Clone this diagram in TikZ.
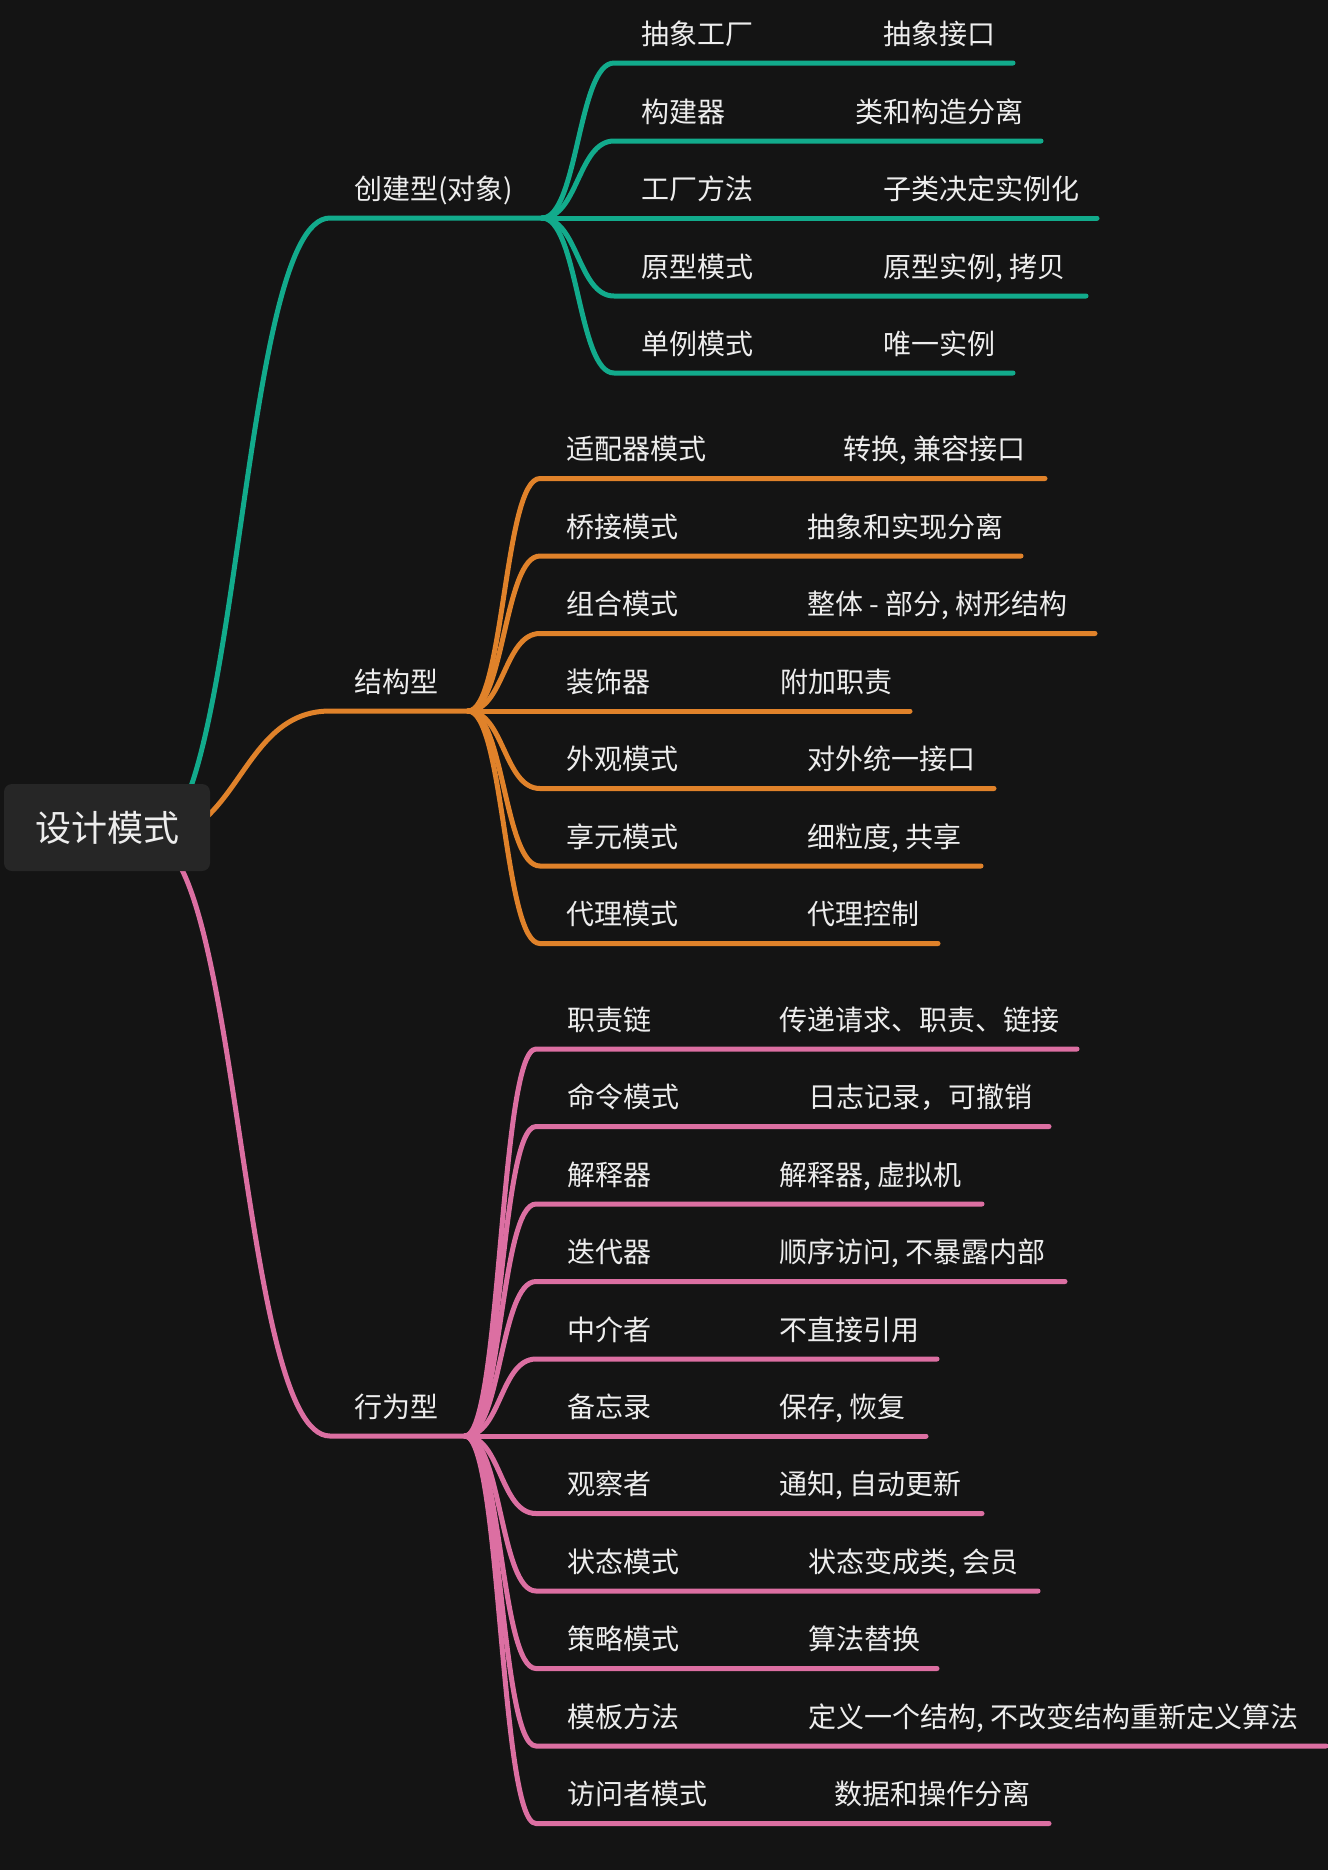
\documentclass[tikz,border=0pt]{standalone}
\usepackage{fontspec}
\setmainfont{Noto Sans CJK SC}
\definecolor{bgc}{HTML}{141414}
\definecolor{rootc}{HTML}{262626}
\definecolor{tealc}{HTML}{12AB8C}
\definecolor{orangec}{HTML}{E0822A}
\definecolor{pinkc}{HTML}{DC6FA2}
\definecolor{txtc}{HTML}{EDEDED}
\pgfdeclarelayer{bg}
\pgfdeclarelayer{links}
\pgfsetlayers{bg,links,main}
% #1 name, #2 line y, #3 label, #4 x of second text, #5 second text, #6 line end x
\newcommand\mmkid[6]{%
  \coordinate (#1s) at (\mmsx,#2);
  \coordinate (#1e) at (#6,#2);
  \node[lbl] (#1a) at (\mmlx,#2-19) {#3};
  \node[lbl] (#1b) at (#4,#2-19) {#5};
  \begin{pgfonlayer}{links}
  \draw[link,\mmkc] (\mmjn) .. controls +(36,0) and +(-36,0) .. (#1s) -- (#1e);
  \end{pgfonlayer}}
\begin{document}
\begin{tikzpicture}[x=0.5pt,y=-0.5pt,
  lbl/.style={anchor=base west, inner sep=0pt, text=txtc, font=\fontsize{14pt}{16pt}\selectfont},
  link/.style={line width=2.5pt, line cap=round},
  rootbox/.style={fill=rootc, rounded corners=4pt, text=txtc, font=\fontsize{18pt}{20pt}\selectfont,
    minimum width=103pt, minimum height=43.5pt, inner sep=0pt}]
\useasboundingbox (0,0) rectangle (1328,1870);
\begin{pgfonlayer}{bg}
\fill[bgc] (0,0) rectangle (1328,1870);
\end{pgfonlayer}

% root
\node[rootbox] (root) at (107,827.5) {设计模式};
\coordinate (rsrc) at (150,840);

% level 1
\coordinate (c0s) at (330,218);  \coordinate (cj) at (542,218);
\coordinate (s0s) at (330,711);  \coordinate (sj) at (468,711);
\coordinate (b0s) at (330,1436); \coordinate (bj) at (465,1436);
\node[lbl] (c0) at (354,218-19) {创建型(对象)};
\node[lbl] (s0) at (354,711-19) {结构型};
\node[lbl] (b0) at (354,1436-19) {行为型};
\begin{pgfonlayer}{links}
\draw[link,tealc] (rsrc) .. controls +(90,0) and +(-90,0) .. (c0s) -- (cj);
\draw[link,orangec] (rsrc) .. controls +(90,0) and +(-90,0) .. (s0s) -- (sj);
\draw[link,pinkc] (rsrc) .. controls +(90,0) and +(-90,0) .. (b0s) -- (bj);
\end{pgfonlayer}

% creational
\def\mmsx{614}\def\mmlx{641}\def\mmkc{tealc}\def\mmjn{cj}
\mmkid{c1}{63}{抽象工厂}{883}{抽象接口}{1013}
\mmkid{c2}{141}{构建器}{855}{类和构造分离}{1041}
\mmkid{c3}{218}{工厂方法}{883}{子类决定实例化}{1097}
\mmkid{c4}{296}{原型模式}{883}{原型实例, 拷贝}{1086}
\mmkid{c5}{373}{单例模式}{883}{唯一实例}{1013}

% structural
\def\mmsx{540}\def\mmlx{566}\def\mmkc{orangec}\def\mmjn{sj}
\mmkid{s1}{478.5}{适配器模式}{843}{转换, 兼容接口}{1045}
\mmkid{s2}{556}{桥接模式}{807}{抽象和实现分离}{1021}
\mmkid{s3}{633.5}{组合模式}{807}{整体 - 部分, 树形结构}{1095}
\mmkid{s4}{711}{装饰器}{780}{附加职责}{910}
\mmkid{s5}{788.5}{外观模式}{807}{对外统一接口}{994}
\mmkid{s6}{866}{享元模式}{807}{细粒度, 共享}{981}
\mmkid{s7}{943.5}{代理模式}{807}{代理控制}{938}

% behavioral
\def\mmsx{536}\def\mmlx{567}\def\mmkc{pinkc}\def\mmjn{bj}
\mmkid{b1}{1049}{职责链}{779}{传递请求、职责、链接}{1077}
\mmkid{b2}{1126.5}{命令模式}{808}{日志记录，可撤销}{1049}
\mmkid{b3}{1204}{解释器}{779}{解释器, 虚拟机}{982}
\mmkid{b4}{1281.5}{迭代器}{779}{顺序访问, 不暴露内部}{1065}
\mmkid{b5}{1359}{中介者}{779}{不直接引用}{937}
\mmkid{b6}{1436}{备忘录}{779}{保存, 恢复}{926}
\mmkid{b7}{1513.5}{观察者}{779}{通知, 自动更新}{982}
\mmkid{b8}{1591}{状态模式}{808}{状态变成类, 会员}{1038}
\mmkid{b9}{1668.5}{策略模式}{808}{算法替换}{937}
\mmkid{b10}{1746}{模板方法}{808}{定义一个结构, 不改变结构重新定义算法}{1326}
\mmkid{b11}{1823.5}{访问者模式}{834}{数据和操作分离}{1049}
\end{tikzpicture}
\end{document}
